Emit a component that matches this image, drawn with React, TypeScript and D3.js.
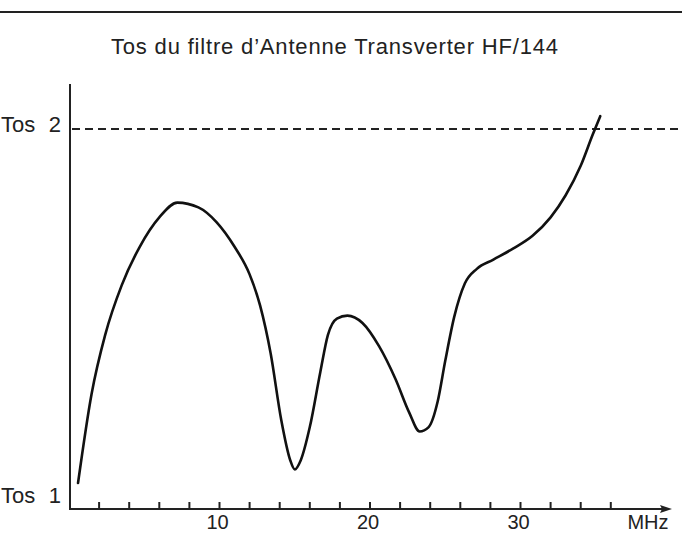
import React from "react";
import * as d3 from "d3";

const freqMHz = [0.6, 1.5, 2.4, 3.5, 4.7, 6.0, 7.2, 8.6, 9.8, 11.0, 12.0, 12.7, 13.4, 14.1, 14.7, 15.0, 15.4, 16.0, 16.7, 17.2, 17.8, 18.5, 19.5, 20.6, 21.7, 22.6, 23.3, 23.9, 24.5, 25.0, 25.6, 26.3, 27.1, 28.2, 29.5, 30.8, 32.0, 33.0, 34.0, 34.8, 35.3];
const tosValues = [1.038, 1.28, 1.44, 1.575, 1.68, 1.76, 1.8, 1.787, 1.747, 1.68, 1.605, 1.52, 1.39, 1.21, 1.1, 1.075, 1.1, 1.19, 1.34, 1.44, 1.485, 1.493, 1.473, 1.41, 1.32, 1.23, 1.178, 1.19, 1.26, 1.37, 1.49, 1.58, 1.62, 1.645, 1.675, 1.71, 1.76, 1.82, 1.9, 1.985, 2.035];
const xTicks = [2, 4, 6, 8, 10, 12, 14, 16, 18, 20, 22, 24, 26, 28, 30, 32, 34, 36];
const xTickLabels = [10, 20, 30];
const tosLevels = [1, 2];
const title = "Tos du filtre d\u2019Antenne Transverter HF/144";
const unitLabel = "MHz";

const W = 684;
const H = 533;
const FONT = "'Liberation Sans', Arial, Helvetica, sans-serif";

export default function App() {
  const x = d3.scaleLinear().domain([0, 10]).range([69, 219.5]);
  const y = d3.scaleLinear().domain([1, 2]).range([497, 129]);
  const baseY = 509;
  const pts: [number, number][] = freqMHz.map((f, i) => [f, tosValues[i]]);
  const line = d3
    .line<[number, number]>()
    .x((d) => x(d[0]))
    .y((d) => y(d[1]))
    .curve(d3.curveMonotoneX);
  const path = line(pts) || "";

  return (
    <svg
      width={W}
      height={H}
      style={{ position: "absolute", left: 0, top: 0, background: "#fff" }}
      fontFamily={FONT}
    >
      <rect x={0} y={0} width={W} height={H} fill="#fff" />
      {/* top rule */}
      <line x1={0} x2={682} y1={12} y2={12} stroke="#222" strokeWidth={2} />
      {/* title */}
      <text x={111} y={54} fontSize={22} fill="#222" textLength={447} lengthAdjust="spacing">
        {title}
      </text>
      {/* y axis */}
      <line x1={70} x2={70} y1={84} y2={baseY + 1} stroke="#222" strokeWidth={2} />
      {/* x axis */}
      <line x1={69} x2={664} y1={baseY} y2={baseY} stroke="#222" strokeWidth={2} />
      <path d={`M672,${baseY} L660,${baseY - 4} L662,${baseY} L660,${baseY + 4} Z`} fill="#222" />
      {xTicks.map((t) => (
        <line key={t} x1={x(t)} x2={x(t)} y1={baseY} y2={baseY - 7} stroke="#222" strokeWidth={2} />
      ))}
      {xTickLabels.map((t) => (
        <text key={t} x={x(t) - 2} y={529} fontSize={20} textAnchor="middle" fill="#222">
          {t}
        </text>
      ))}
      <text x={648} y={529} fontSize={20} textAnchor="middle" fill="#222">
        {unitLabel}
      </text>
      {/* Tos labels */}
      {tosLevels.map((v) => (
        <g key={v}>
          <text x={1} y={v === 2 ? 132 : 503} fontSize={22} fill="#222">
            Tos
          </text>
          <text x={61} y={v === 2 ? 132 : 503} fontSize={22} textAnchor="end" fill="#222">
            {v}
          </text>
        </g>
      ))}
      {/* Tos 2 dashed reference */}
      <line
        x1={72}
        x2={680}
        y1={y(2)}
        y2={y(2)}
        stroke="#222"
        strokeWidth={1.8}
        strokeDasharray="8,5"
      />
      {/* curve */}
      <path d={path} fill="none" stroke="#111" strokeWidth={2.6} strokeLinecap="round" strokeLinejoin="round" />
    </svg>
  );
}
